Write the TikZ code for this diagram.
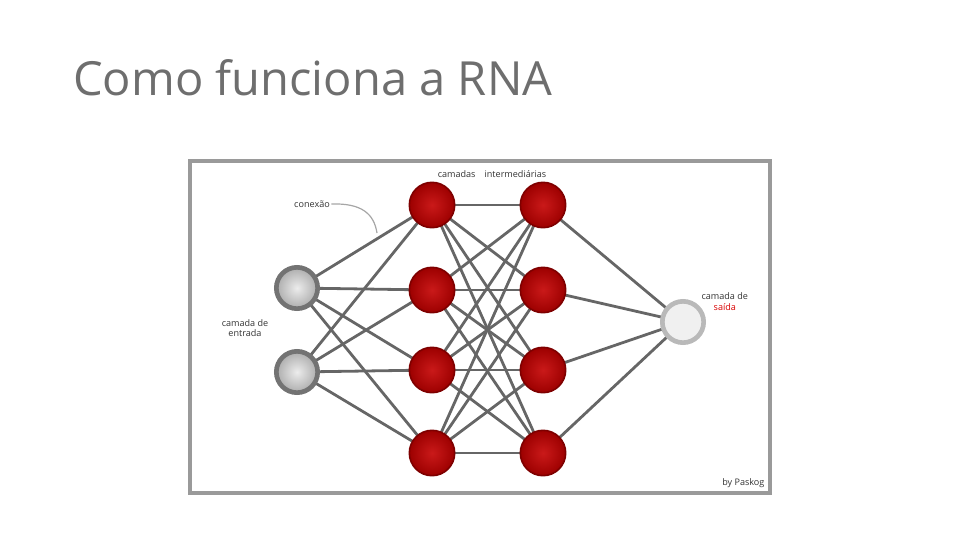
\documentclass[tikz,border=0pt]{standalone}
\usepackage{fontspec}
\setmainfont{Open Sans}
\usepackage{tikz}
\usetikzlibrary{positioning}

\definecolor{titlegray}{HTML}{6E6E6E}
\definecolor{framegray}{HTML}{9A9A9A}
\definecolor{edgegray}{HTML}{666666}
\definecolor{neuronred}{HTML}{C40000}
\definecolor{neurondark}{HTML}{7E0000}

\begin{document}
\begin{tikzpicture}[x=0.75pt, y=-0.75pt,
		% Define styles for the neurons
		input style/.style={circle, draw=gray!90!black, line width=3.5pt, inner color=gray!15, outer color=gray!65, minimum size=31pt},
		hidden style/.style={circle, draw=neurondark, line width=1.2pt, inner color=neuronred!90, outer color=neuronred!80!black, minimum size=34pt},
		output style/.style={circle, draw=gray!55, line width=3.5pt, fill=gray!12, minimum size=31pt},
		label style/.style={font=\fontsize{6.8}{7.8}\selectfont, text=black!80, align=center, inner sep=1pt},
		edge style/.style={draw=edgegray, line width=2.1pt}
		]
		
		\useasboundingbox (0,0) rectangle (960,540);
		
		% Title
		\node[anchor=base west, inner sep=0pt, text=titlegray, font=\fontsize{35.3}{41}\selectfont] (title) at (73,95) {Como funciona a RNA};
		
		% Frame
		\draw[framegray, line width=3pt] (190,161) rectangle (770,493);
		
		% Define and place your nodes
		\coordinate (I1) at (297,288);
		\coordinate (I2) at (297,372);
		\foreach \j/\y in {1/205,2/290,3/370,4/453} {
			\coordinate (A\j) at (432,\y);
			\coordinate (B\j) at (543,\y);
		}
		\coordinate (O) at (683,322);
		
		% --- Draw the edges ---
		\foreach \i in {1,2}
			\foreach \j in {1,2,3,4}
				\draw[edge style] (I\i) -- (A\j);
		\foreach \i in {1,2,3,4}
			\foreach \j in {1,2,3,4}
				\draw[edge style] (A\i) -- (B\j);
		\foreach \j in {1,2,3,4}
			\draw[edge style] (B\j) -- (O);
		
		% the neurons, above the edges
		\node[input style] (in1) at (I1) {};
		\node[input style] (in2) at (I2) {};
		\foreach \j in {1,2,3,4} {
			\node[hidden style] (ha\j) at (A\j) {};
			\node[hidden style] (hb\j) at (B\j) {};
		}
		\node[output style] (out) at (O) {};
		
		% Labels
		\node[label style] (hidlabel) at (492,174) {camadas\quad intermediárias};
		\node[label style] (inlabel) at (245,328) {camada de\\entrada};
		\node[label style, anchor=west] (outlabel) at (700,296) {camada de};
		\node[label style, text=red!85!black, below=1pt of outlabel] (outred) {saída};
		\node[label style] (conlabel) at (312,204) {conexão};
		\node[label style, anchor=south east] (credit) at (766,489) {by Paskog};
		
		\coordinate (lnk) at (377,233);
		\draw[gray!70, line width=0.9pt] (conlabel.east) .. controls (362,203) and (374,214) .. (lnk);
	\end{tikzpicture}
\end{document}
